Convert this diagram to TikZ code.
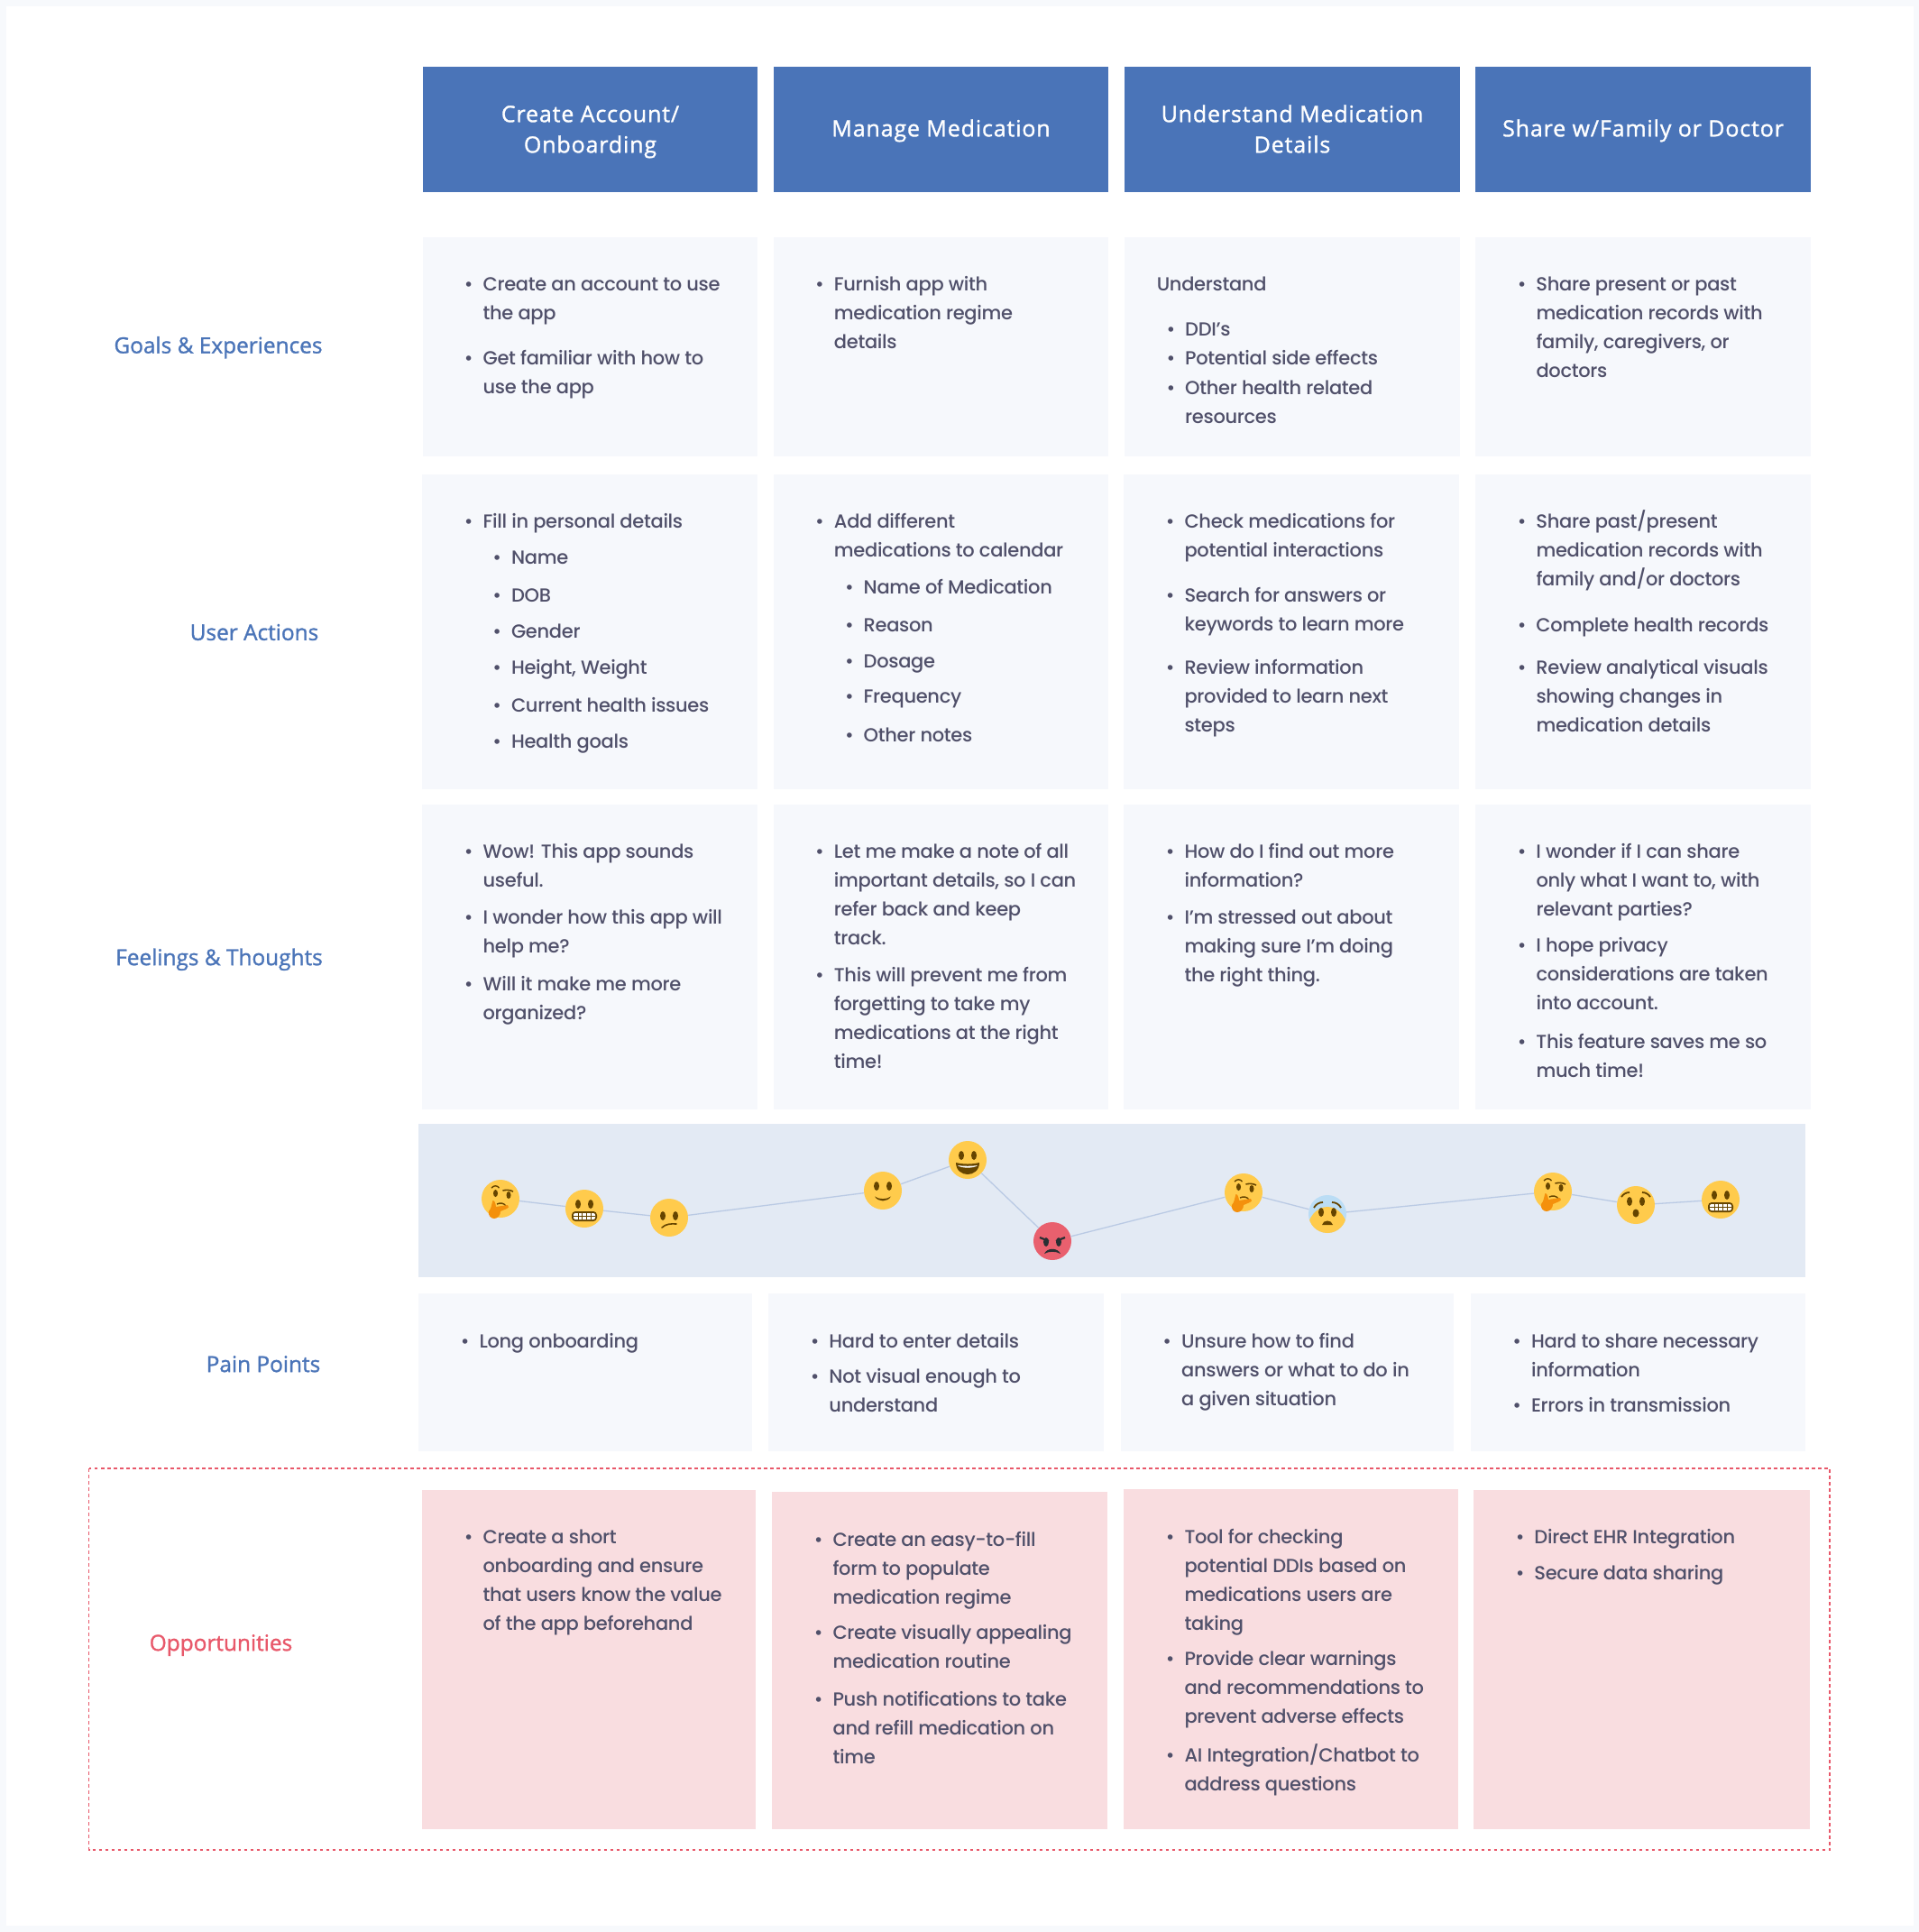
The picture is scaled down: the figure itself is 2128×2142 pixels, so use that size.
\documentclass[tikz,border=0pt]{standalone}
\usepackage{fontspec}
\setmainfont[LetterSpace=-1.5]{Poppins Medium}
\newfontfamily\headfont[LetterSpace=3.4,FakeBold=1.2]{Open Sans}
\newfontfamily\labelfont[FakeBold=1.2]{Open Sans}
\definecolor{pagebg}{HTML}{F7F9FC}
\definecolor{cellbg}{HTML}{F6F8FC}
\definecolor{headbg}{HTML}{4A74B8}
\definecolor{bandbg}{HTML}{E3EAF4}
\definecolor{pinkbg}{HTML}{F9DDE0}
\definecolor{bodytx}{HTML}{50506A}
\definecolor{labelbl}{HTML}{4A74B8}
\definecolor{labelrd}{HTML}{E8586A}
\definecolor{moodln}{HTML}{BACAE4}
\definecolor{emoy}{HTML}{FFCB4C}
\definecolor{emor}{HTML}{E9606E}
\definecolor{emob}{HTML}{664500}
\definecolor{emod}{HTML}{292F33}
\definecolor{emoh}{HTML}{F4900C}
\definecolor{emosw}{HTML}{BBDDF5}
\newcounter{itemno}
\def\kk{1.3659}
\tikzset{
  headbox/.style={fill=headbg,text=white,inner sep=0pt,align=center,font=\headfont\fontsize{25}{34}\selectfont},
  rowlabel/.style={inner sep=0pt,text=labelbl,font=\labelfont\fontsize{24.4}{32}\selectfont},
  itembox/.style={anchor=north west,inner sep=0pt,align=left,text=bodytx,font=\fontsize{21}{32}\selectfont},
  emo/.style={circle,minimum size=42pt,inner sep=0pt,fill=emoy},
  mood/.style={draw=moodln,line width=1.3pt},
}
\newcommand\bi[3]{\stepcounter{itemno}\node[itembox] (item\theitemno) at ({#1*\kk},{#2*\kk-14.5}) {\strut\llap{•\hspace{11pt}}#3};}
\newcommand\cellbox[4]{\fill[cellbg] (#1,#2) rectangle (#3,#4);}
\newcommand\pinkbox[4]{\fill[pinkbg] (#1,#2) rectangle (#3,#4);}
\newcommand\eyes[1]{\fill[emob] (-7,#1) ellipse [x radius=3,y radius=5] (7,#1) ellipse [x radius=3,y radius=5];}
\newcommand\grimaceface[3]{\node[emo] (#1) at (#2,#3) {};
 \begin{scope}[shift={(#2,#3)}]\eyes{-5}
 \fill[emob,rounded corners=4pt] (-14,3) rectangle (14,14);
 \fill[white,rounded corners=2pt] (-12,5) rectangle (12,12);
 \draw[emob,line width=.8pt] (-12,8.5)--(12,8.5) (-7,5)--(-7,12) (-2.5,5)--(-2.5,12) (2.5,5)--(2.5,12) (7,5)--(7,12);
 \end{scope}}
\newcommand\confusedface[3]{\node[emo] (#1) at (#2,#3) {};
 \begin{scope}[shift={(#2,#3)}]\eyes{-2}
 \draw[emob,line width=1.6pt,line cap=round] (-8,11) .. controls (-4,7) and (2,6.5) .. (8,7);
 \end{scope}}
\newcommand\smileface[3]{\node[emo] (#1) at (#2,#3) {};
 \begin{scope}[shift={(#2,#3)}]\eyes{-5}
 \fill[emob] (-9,6.5) .. controls (-5,13) and (5,13) .. (9,6.5) .. controls (4,10) and (-4,10) .. (-9,6.5);
 \end{scope}}
\newcommand\grinface[3]{\node[emo] (#1) at (#2,#3) {};
 \begin{scope}[shift={(#2,#3)}]\eyes{-5}
 \fill[emob] (-13,3) .. controls (-5,5) and (5,5) .. (13,3) .. controls (13,12) and (6,16) .. (0,16) .. controls (-6,16) and (-13,12) .. (-13,3);
 \fill[white] (-11,6) .. controls (-5,7) and (5,7) .. (11,6) .. controls (8,9.5) and (-8,9.5) .. (-11,6);
 \end{scope}}
\newcommand\angryface[3]{\node[emo,fill=emor] (#1) at (#2,#3) {};
 \begin{scope}[shift={(#2,#3)}]
 \fill[emod] (-7,1) ellipse [x radius=3,y radius=5] (7,1) ellipse [x radius=3,y radius=5];
 \draw[emod,line width=2.2pt] (-14,-4)--(-4,0) (14,-4)--(4,0);
 \fill[emod] (-9,14) .. controls (-6,7) and (6,7) .. (9,14) .. controls (4,11) and (-4,11) .. (-9,14);
 \end{scope}}
\newcommand\thinkface[3]{\node[emo] (#1) at (#2,#3) {};
 \begin{scope}[shift={(#2,#3)}]
 \fill[emob] (-5.5,-6) ellipse [x radius=2.5,y radius=4] (9,-4) ellipse [x radius=2.5,y radius=4];
 \draw[emob,line width=1.4pt] (-10,-12) .. controls (-7,-15) and (-4,-15) .. (-1.5,-12);
 \draw[emob,line width=1.6pt] (2.5,-9) .. controls (6,-10) and (10,-10) .. (14,-8);
 \draw[emob,line width=1.4pt] (-4,6) .. controls (0,4) and (4,5) .. (6,8);
 \fill[emoh] (-8.5,2) .. controls (-6.5,2) and (-5.5,5) .. (-5,9) -- (8,7) .. controls (10,8) and (9,11) .. (7,11) -- (0,14) .. controls (0,18) and (-3,22) .. (-7,22) .. controls (-11,22) and (-14,18) .. (-13,14) .. controls (-10,11) and (-10,6) .. (-8.5,2);
 \end{scope}}
\newcommand\anxiousface[3]{\node[emo,fill=emosw] (#1) at (#2,#3) {};
 \begin{scope}[shift={(#2,#3)}]
 \begin{scope}\clip (0,0) circle (21);\fill[emoy] (0,21) ellipse [x radius=23,y radius=29];\end{scope}
 \fill[emob] (-7,-2) ellipse [x radius=3,y radius=5] (7,-2) ellipse [x radius=3,y radius=5];
 \draw[emob,line width=1.8pt] (-15,-7) .. controls (-13,-11) and (-9,-13) .. (-5,-13) (15,-7) .. controls (13,-11) and (9,-13) .. (5,-13);
 \fill[emob] (-6,12) .. controls (-5,6) and (5,6) .. (6,12) -- cycle;
 \end{scope}}
\newcommand\hushedface[3]{\node[emo] (#1) at (#2,#3) {};
 \begin{scope}[shift={(#2,#3)}]\eyes{-4}
 \draw[emob,line width=1.8pt] (-16,-9) .. controls (-14,-12) and (-11,-14) .. (-7,-14) (16,-9) .. controls (14,-12) and (11,-14) .. (7,-14);
 \fill[emob] (0,9) ellipse [x radius=3.5,y radius=4.5];
 \end{scope}}
\begin{document}
\begin{tikzpicture}[x=1pt,y=-1pt]
\useasboundingbox (0,0) rectangle (2128,2142);
\fill[pagebg] (0,0) rectangle (2128,2142);
\fill[white] (7,7) rectangle (2122,2135);

% headers
\node[headbox,minimum width=371pt,minimum height=139pt] (h1) at (654.5,143.5) {\rule{0pt}{27.8pt}Create Account/\\\strut Onboarding};
\node[headbox,minimum width=371pt,minimum height=139pt] (h2) at (1043.5,143.5) {\rule{0pt}{25.8pt}\strut Manage Medication};
\node[headbox,minimum width=372pt,minimum height=139pt] (h3) at (1433,143.5) {\rule{0pt}{27.8pt}Understand Medication\\\strut Details};
\node[headbox,minimum width=372pt,minimum height=139pt] (h4) at (1822,143.5) {\rule{0pt}{25.8pt}\strut Share w/Family or Doctor};

% row backgrounds
\cellbox{469}{263}{840}{506}\cellbox{858}{263}{1229}{506}\cellbox{1247}{263}{1619}{506}\cellbox{1636}{263}{2008}{506}
\cellbox{468}{526}{840}{875}\cellbox{858}{526}{1229}{875}\cellbox{1246}{526}{1618}{875}\cellbox{1636}{526}{2008}{875}
\cellbox{468}{892}{840}{1230}\cellbox{858}{892}{1229}{1230}\cellbox{1246}{892}{1618}{1230}\cellbox{1636}{892}{2008}{1230}
\fill[bandbg] (464,1246) rectangle (2002,1416);
\cellbox{464}{1434}{834}{1609}\cellbox{852}{1434}{1224}{1609}\cellbox{1243}{1434}{1612}{1609}\cellbox{1631}{1434}{2002}{1609}
\draw[labelrd,line width=1.3pt,dash pattern=on 3.5pt off 3.5pt] (98.5,1628) rectangle (2029,2051);
\pinkbox{468}{1652}{838}{2028}\pinkbox{856}{1654}{1228}{2028}\pinkbox{1246}{1651}{1617}{2028}\pinkbox{1634}{1652}{2007}{2028}

% row labels
\node[rowlabel] (l1) at (242,385.2) {\strut Goals \& Experiences};
\node[rowlabel] (l2) at (282,703.4) {\strut User Actions};
\node[rowlabel] (l3) at (243,1063.7) {\strut Feelings \& Thoughts};
\node[rowlabel] (l4) at (292,1514.7) {\strut Pain Points};
\node[rowlabel,text=labelrd] (l5) at (245,1823.7) {\strut Opportunities};

% goals
\bi{392}{230}{Create an account to use\\the app}
\bi{392}{290}{Get familiar with how to\\use the app}
\bi{677}{230}{Furnish app with\\medication regime\\details}
\node[itembox] (under) at ({939*\kk},{230*\kk-14.5}) {\strut Understand};
\bi{962}{267}{DDI’s}
\bi{962}{290}{Potential side effects}
\bi{962}{314}{Other health related\\resources}
\bi{1247}{230}{Share present or past\\medication records with\\family, caregivers, or\\doctors}

% actions
\bi{392}{423}{Fill in personal details}
\bi{415}{452}{Name}
\bi{415}{483}{DOB}
\bi{415}{512}{Gender}
\bi{415}{541}{Height, Weight}
\bi{415}{572}{Current health issues}
\bi{415}{601}{Health goals}
\bi{677}{423}{Add different\\medications to calendar}
\bi{701}{476}{Name of Medication}
\bi{701}{507}{Reason}
\bi{701}{536}{Dosage}
\bi{701}{565}{Frequency}
\bi{701}{596}{Other notes}
\bi{961.5}{423}{Check medications for\\potential interactions}
\bi{961.5}{483}{Search for answers or\\keywords to learn more}
\bi{961.5}{541}{Review information\\provided to learn next\\steps}
\bi{1247}{423}{Share past/present\\medication records with\\family and/or doctors}
\bi{1247}{507}{Complete health records}
\bi{1247}{541}{Review analytical visuals\\showing changes in\\medication details}

% feelings
\bi{392}{691}{Wow! This app sounds\\useful.}
\bi{392}{744}{I wonder how this app will\\help me?}
\bi{392}{798}{Will it make me more\\organized?}
\bi{677}{691}{Let me make a note of all\\important details, so I can\\refer back and keep\\track.}
\bi{677}{791}{This will prevent me from\\forgetting to take my\\medications at the right\\time!}
\bi{961.5}{691}{How do I find out more\\information?}
\bi{961.5}{744}{I’m stressed out about\\making sure I’m doing\\the right thing.}
\bi{1247}{691}{I wonder if I can share\\only what I want to, with\\relevant parties?}
\bi{1247}{767}{I hope privacy\\considerations are taken\\into account.}
\bi{1247}{845}{This feature saves me so\\much time!}

% mood curve
\thinkface{e1}{555}{1329}
\grimaceface{e2}{648}{1340}
\confusedface{e3}{742}{1350}
\smileface{e4}{979}{1320}
\grinface{e5}{1073}{1286}
\angryface{e6}{1167}{1376}
\thinkface{e7}{1379}{1322}
\anxiousface{e8}{1472}{1346}
\thinkface{e9}{1722}{1321}
\hushedface{e10}{1814}{1336}
\grimaceface{e11}{1908}{1330}
\draw[mood] (e1)--(e2);\draw[mood] (e2)--(e3);\draw[mood] (e3)--(e4);\draw[mood] (e4)--(e5);
\draw[mood] (e5)--(e6);\draw[mood] (e6)--(e7);\draw[mood] (e7)--(e8);\draw[mood] (e8)--(e9);
\draw[mood] (e9)--(e10);\draw[mood] (e10)--(e11);

% pain points
\bi{389}{1088}{Long onboarding}
\bi{673}{1088}{Hard to enter details}
\bi{673}{1117}{Not visual enough to\\understand}
\bi{959}{1088}{Unsure how to find\\answers or what to do in\\a given situation}
\bi{1243}{1088}{Hard to share necessary\\information}
\bi{1243}{1140}{Errors in transmission}

% opportunities
\bi{392}{1247}{Create a short\\onboarding and ensure\\that users know the value\\of the app beforehand}
\bi{676}{1249}{Create an easy-to-fill\\form to populate\\medication regime}
\bi{676}{1325}{Create visually appealing\\medication routine}
\bi{676}{1379}{Push notifications to take\\and refill medication on\\time}
\bi{961.5}{1247}{Tool for checking\\potential DDIs based on\\medications users are\\taking}
\bi{961.5}{1346}{Provide clear warnings\\and recommendations to\\prevent adverse effects}
\bi{961.5}{1424}{AI Integration/Chatbot to\\address questions}
\bi{1245.5}{1247}{Direct EHR Integration}
\bi{1245.5}{1276}{Secure data sharing}
\end{tikzpicture}
\end{document}
